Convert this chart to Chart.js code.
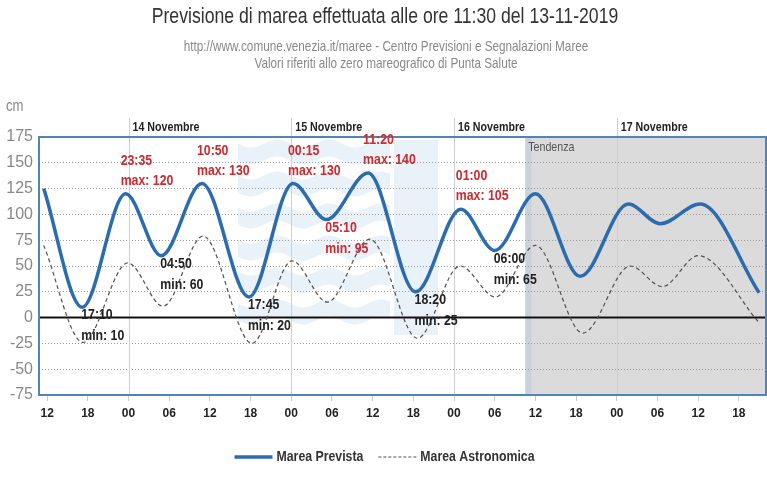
<!DOCTYPE html>
<html><head><meta charset="utf-8">
<script src="https://cdn.jsdelivr.net/npm/chart.js@4.4.0/dist/chart.umd.min.js"></script>
<style>html,body{margin:0;padding:0;background:#fff}#wrap{width:767px;height:485px}</style>
</head><body><div id="wrap"><canvas id="c" width="767" height="485"></canvas></div>
<script>
// hours counted from 13 Nov 2019 00:00
const forecastHours  = [11.5, 17.17, 23.58, 28.83, 34.83, 41.75, 48.25, 53.17, 59.33, 66.33, 73, 78, 84, 90.6, 97.7, 102.4, 108.3, 117];
const forecastValues = [125, 10, 120, 60, 130, 20, 130, 95, 140, 25, 105, 65, 120, 40, 110, 91, 110, 24];
const astroHours  = [11.5, 17.3, 23.9, 29.1, 35, 42.2, 48.1, 53.3, 59.6, 66.6, 72.9, 78.1, 84, 91, 98, 102.7, 108, 117];
const astroValues = [70, -24, 53, 11, 79, -25, 55, 15, 76, -20, 50, 20, 70, -15, 50, 30, 60, -5];
const extremeLabels = ["17:10","23:35","04:50","10:50","17:45","00:15","05:10","11:20","18:20","01:00","06:00"];
const extremeHours  = [17.17, 23.58, 28.83, 34.83, 41.75, 48.25, 53.17, 59.33, 66.33, 73, 78];
const extremeValues = [10, 120, 60, 130, 20, 130, 95, 140, 25, 105, 65];
const extremeKinds  = ["min","max","min","max","min","max","min","max","min","max","min"];
const dayLabels = ["14 Novembre","15 Novembre","16 Novembre","17 Novembre"];
const dayHours  = [24, 48, 72, 96];
const xTickHours = [12,18,24,30,36,42,48,54,60,66,72,78,84,90,96,102,108,114];
const yTickValues = [-75,-50,-25,0,25,50,75,100,125,150,175];
const tendenzaStart = 82.5;
const titleText = "Previsione di marea effettuata alle ore 11:30 del 13-11-2019";
const subText1 = "http://www.comune.venezia.it/maree - Centro Previsioni e Segnalazioni Maree";
const subText2 = "Valori riferiti allo zero mareografico di Punta Salute";

const SANS = '"Liberation Sans", Arial, sans-serif';
const NARROW_SCALE = 0.82;

function narrowText(ctx, text, x, y, size, weight, color, align){
  ctx.save();
  ctx.font = (weight ? weight + ' ' : '') + size + 'px ' + SANS;
  ctx.fillStyle = color; ctx.textBaseline = 'middle'; ctx.textAlign = align || 'left';
  ctx.translate(x, y); ctx.scale(NARROW_SCALE, 1);
  ctx.fillText(text, 0, 0);
  ctx.restore();
}
function narrowWidth(ctx, text, size, weight){
  ctx.save();
  ctx.font = (weight ? weight + ' ' : '') + size + 'px ' + SANS;
  const w = ctx.measureText(text).width * NARROW_SCALE;
  ctx.restore();
  return w;
}

function band(ctx, x0, x1, yc, h, amp, period){
  ctx.beginPath();
  for (let px = x0; px <= x1; px += 2){
    const yy = yc + amp*Math.sin((px-x0)/period*2*Math.PI);
    if (px === x0) ctx.moveTo(px, yy-h/2); else ctx.lineTo(px, yy-h/2);
  }
  for (let px = x1; px >= x0; px -= 2){
    const yy = yc + amp*Math.sin((px-x0)/period*2*Math.PI);
    ctx.lineTo(px, yy+h/2);
  }
  ctx.closePath(); ctx.fill();
}

const decor = {
  id: 'decor',
  beforeDraw(chart){
    const {ctx, chartArea: a, scales: {x}} = chart;
    ctx.save();
    const xs = x.getPixelForValue(tendenzaStart);
    ctx.fillStyle = '#dbdbdb';
    ctx.fillRect(xs, a.top, a.right - xs, a.bottom - a.top);
    ctx.fillStyle = 'rgba(170,195,220,0.35)';
    ctx.fillRect(xs, a.top, 6, a.bottom - a.top);
    // faint watermark logo
    ctx.fillStyle = 'rgba(175,203,232,0.28)';
    [152, 184, 216, 248, 280, 312].forEach(yc => band(ctx, 238, 390, yc, 17, 4, 52));
    ctx.fillRect(394, 140, 44, 195);
    ctx.restore();
  },
  beforeDatasetsDraw(chart){
    const {ctx, chartArea: a, scales: {x, y}} = chart;
    ctx.save();
    ctx.strokeStyle = '#cfcfcf'; ctx.lineWidth = 1;
    dayHours.forEach(h => {
      const px = Math.round(x.getPixelForValue(h)) + 0.5;
      ctx.beginPath(); ctx.moveTo(px, 118); ctx.lineTo(px, a.bottom); ctx.stroke();
    });
    const y0 = y.getPixelForValue(0);
    ctx.strokeStyle = '#111'; ctx.lineWidth = 2;
    ctx.beginPath(); ctx.moveTo(a.left, y0); ctx.lineTo(a.right, y0); ctx.stroke();
    ctx.strokeStyle = '#4f86b5'; ctx.lineWidth = 2;
    ctx.strokeRect(a.left, a.top, a.right - a.left, a.bottom - a.top);
    ctx.restore();
  },
  afterDraw(chart){
    const {ctx, scales: {x, y}} = chart;
    narrowText(ctx, titleText, 385, 17, 21.5, '', '#333', 'center');
    narrowText(ctx, subText1, 386, 47, 14.3, '', '#888', 'center');
    narrowText(ctx, subText2, 386, 64, 14.3, '', '#888', 'center');
    narrowText(ctx, 'cm', 6, 107, 16, '', '#888', 'left');
    dayHours.forEach((h, i) => narrowText(ctx, dayLabels[i], x.getPixelForValue(h) + 4, 127, 13, 'bold', '#222'));
    narrowText(ctx, 'Tendenza', x.getPixelForValue(tendenzaStart) + 3, 147, 13, '', '#555');
    extremeHours.forEach((h, i) => {
      const px = x.getPixelForValue(h), py = y.getPixelForValue(extremeValues[i]);
      const col = extremeValues[i] >= 80 ? '#cc2a2f' : '#222';
      if (extremeKinds[i] === 'max'){
        narrowText(ctx, extremeLabels[i], px - 5, py - 33, 15, 'bold', col);
        narrowText(ctx, 'max: ' + extremeValues[i], px - 5, py - 13, 15, 'bold', col);
      } else {
        narrowText(ctx, extremeLabels[i], px - 1, py + 8, 15, 'bold', col);
        narrowText(ctx, 'min: ' + extremeValues[i], px - 1, py + 29, 15, 'bold', col);
      }
    });
    // legend built from the datasets' own styles
    const ds = chart.data.datasets;
    const sample = 38, gapT = 4, gapItem = 15, ly = 457, fs = 15;
    const widths = ds.map(d => sample + gapT + narrowWidth(ctx, d.label, fs, 'bold'));
    const total = widths.reduce((s, w) => s + w, 0) + gapItem * (ds.length - 1);
    let cx = 384.5 - total / 2;
    ds.forEach((d, i) => {
      ctx.save();
      ctx.strokeStyle = d.borderColor; ctx.lineWidth = d.borderWidth;
      ctx.setLineDash(d.borderDash ? [3, 2] : []);
      ctx.beginPath(); ctx.moveTo(cx, ly); ctx.lineTo(cx + sample, ly); ctx.stroke();
      ctx.restore();
      narrowText(ctx, d.label, cx + sample + gapT, ly, fs, 'bold', '#333');
      cx += widths[i] + gapItem;
    });
  }
};

new Chart(document.getElementById('c'), {
  type: 'line',
  data: {
    datasets: [
      { label: 'Marea Prevista', data: forecastHours.map((h, i) => ({x: h, y: forecastValues[i]})),
        borderColor: '#2b6cb0', borderWidth: 3.5, pointRadius: 0, cubicInterpolationMode: 'monotone', fill: false, order: 0 },
      { label: 'Marea Astronomica', data: astroHours.map((h, i) => ({x: h, y: astroValues[i]})),
        borderColor: '#505050', borderWidth: 1.2, borderDash: [4, 3], pointRadius: 0, cubicInterpolationMode: 'monotone', fill: false, order: 1 }
    ]
  },
  options: {
    responsive: false, animation: false,
    layout: { padding: { top: 137, left: 0, right: 1, bottom: 45 } },
    plugins: { tooltip: { enabled: false }, title: { display: false }, legend: { display: false } },
    scales: {
      x: { type: 'linear', min: 10.8, max: 118,
        afterBuildTicks: s => { s.ticks = xTickHours.map(v => ({value: v})); },
        ticks: { callback: v => String(((v % 24) + 24) % 24).padStart(2, '0'), autoSkip: false, maxRotation: 0,
          color: '#222', padding: 5, font: { family: SANS, size: 12, weight: 'bold' } },
        grid: { drawOnChartArea: false, drawTicks: true, tickLength: 6, tickColor: '#cccccc', color: '#cccccc' },
        border: { display: false },
        afterFit: s => { s.height = 45; }
      },
      y: { min: -75, max: 175,
        afterBuildTicks: s => { s.ticks = yTickValues.map(v => ({value: v})); },
        ticks: { color: '#888', padding: 6, font: { family: SANS, size: 16 } },
        grid: { drawTicks: false, lineWidth: 1,
          color: c => (c.tick && (c.tick.value === 0 || c.tick.value === 175 || c.tick.value === -75)) ? 'rgba(0,0,0,0)' : '#9a9a9a' },
        border: { display: false, dash: [1, 2] },
        afterFit: s => { s.width = 39; }
      }
    }
  },
  plugins: [decor]
});
</script>
</body></html>
